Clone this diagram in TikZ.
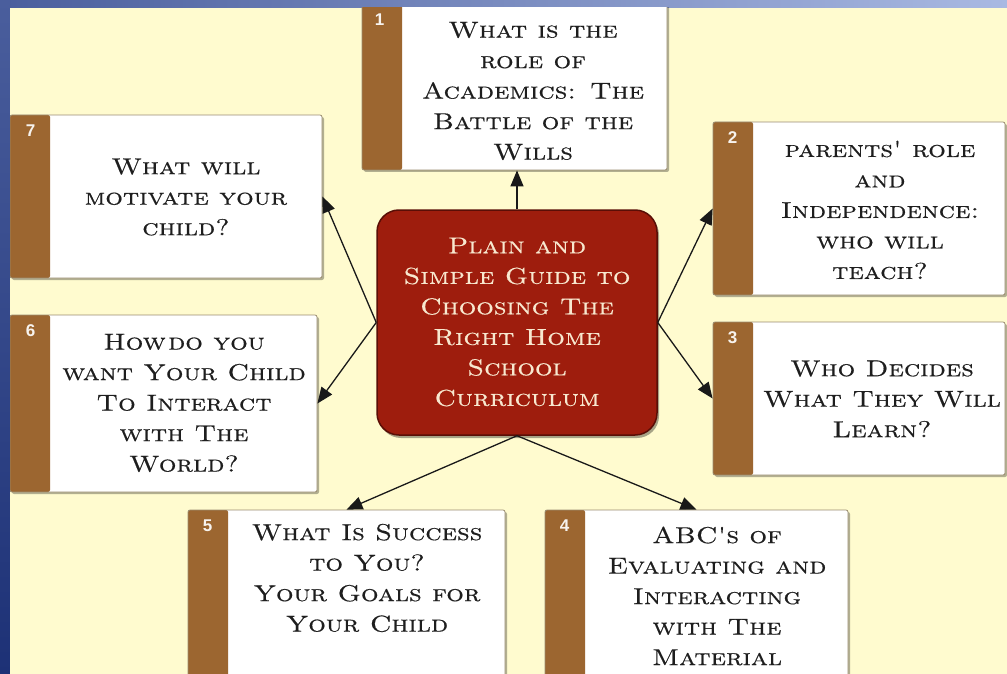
\documentclass[tikz,border=0pt]{standalone}
\usepackage{fontspec}
\usetikzlibrary{arrows.meta,shadows}
\newfontfamily\capsfont{lmromancaps10-regular}[Extension=.otf, FakeStretch=1.2, FakeBold=0.5]
\newfontfamily\numfont{Liberation Sans}

\definecolor{cream}{HTML}{FFFBCF}
\definecolor{stripbrown}{HTML}{9C6630}
\definecolor{guidered}{HTML}{9E1D0D}
\definecolor{guideedge}{HTML}{5A0E06}
\definecolor{guidetext}{HTML}{F8E8CF}
\definecolor{deepblue}{HTML}{1D3176}
\definecolor{midblue}{HTML}{4A5E9D}
\definecolor{paleblue}{HTML}{A9B9E2}
\definecolor{cardedge}{HTML}{9A8C70}
\definecolor{inktext}{HTML}{1E1E1E}

\tikzset{
  card/.style={draw=cardedge, line width=0.8pt, fill=white, rounded corners=2pt, inner sep=0pt,
    drop shadow={shadow xshift=2pt, shadow yshift=-2pt, opacity=0.3, fill=black},
    path picture={\fill[stripbrown] (path picture bounding box.south west)
      rectangle ([xshift=40pt]path picture bounding box.north west);}},
  cardtext/.style={align=center, text=inktext, inner sep=0pt,
    font=\capsfont\fontsize{23}{30.5}\selectfont},
  cardnum/.style={text=white!92!stripbrown, inner sep=0pt,
    font=\numfont\bfseries\fontsize{17}{17}\selectfont},
  guide/.style={fill=guidered, draw=guideedge, line width=1.5pt, rounded corners=22pt,
    inner sep=0pt, drop shadow={shadow xshift=2pt, shadow yshift=-3pt, opacity=0.35, fill=black}},
  guidetxt/.style={cardtext, text=guidetext},
  link/.style={draw=black!90, line width=1.3pt, -{Triangle[length=16pt,width=13pt]}}
}

\begin{document}
\begin{tikzpicture}[x=1pt, y=-1pt]
\useasboundingbox (0,0) rectangle (1007,674);

% blue frame
\shade[left color=midblue, right color=paleblue] (0,0) rectangle (1007,674);
\shade[top color=midblue, bottom color=deepblue] (0,0) rectangle (10,674);
\fill[cream] (10,8) rectangle (1007,674);

\begin{scope}
\clip (10,8) rectangle (1007,674);

% topic cards
\node[card, minimum width=305pt, minimum height=166pt] (c1) at (514.5,87) {};
\node[card, minimum width=292pt, minimum height=173pt] (c2) at (859,208.5) {};
\node[card, minimum width=292pt, minimum height=153pt] (c3) at (859,398.5) {};
\node[card, minimum width=303pt, minimum height=172pt] (c4) at (696.5,596) {};
\node[card, minimum width=317pt, minimum height=172pt] (c5) at (346.5,596) {};
\node[card, minimum width=307pt, minimum height=177pt] (c6) at (163.5,403.5) {};
\node[card, minimum width=312pt, minimum height=163pt] (c7) at (166,196.5) {};

% card numbers
\node[cardnum] (n1) at ([xshift=18pt, yshift=-16pt]c1.north west) {1};
\node[cardnum] (n2) at ([xshift=20pt, yshift=-16pt]c2.north west) {2};
\node[cardnum] (n3) at ([xshift=20pt, yshift=-16pt]c3.north west) {3};
\node[cardnum] (n4) at ([xshift=20pt, yshift=-16pt]c4.north west) {4};
\node[cardnum] (n5) at ([xshift=20pt, yshift=-16pt]c5.north west) {5};
\node[cardnum] (n6) at ([xshift=21pt, yshift=-16pt]c6.north west) {6};
\node[cardnum] (n7) at ([xshift=21pt, yshift=-16pt]c7.north west) {7};

% card texts
\node[cardtext] (t1) at (533,91) {What is the\\role of\\Academics: The\\Battle of the\\Wills};
\node[cardtext] (t2) at (880,210) {parents' role\\and\\Independence:\\who will\\teach?};
\node[cardtext] (t3) at (882,399) {Who Decides\\What They Will\\Learn?};
\node[cardtext] (t4) at (717,596) {ABC's of\\Evaluating and\\Interacting\\with The\\Material};
\node[cardtext] (t5) at (367,578) {What Is Success\\to You?\\Your Goals for\\Your Child};
\node[cardtext] (t6) at (184,403) {How\hspace{0.1em}do you\\want Your Child\\To Interact\\with The\\World?};
\node[cardtext] (t7) at (186,197) {What will\\motivate your\\child?};

% central guide
\node[guide, minimum width=280pt, minimum height=225pt] (ctr) at (517,322.5) {};
\node[guidetxt] (tc) at (517,322) {Plain and\\Simple Guide to\\Choosing The\\Right Home\\School\\Curriculum};

% connectors
\draw[link] (ctr.north) -- (ctr.north |- c1.south);
\draw[link] (ctr.east) -- (c2.west);
\draw[link] (ctr.east) -- (c3.west);
\draw[link] (ctr.south) -- (c4.north);
\draw[link] (ctr.south) -- (c5.north);
\draw[link] (ctr.west) -- (c6.east);
\draw[link] (ctr.west) -- (c7.east);
\end{scope}
\end{tikzpicture}
\end{document}
